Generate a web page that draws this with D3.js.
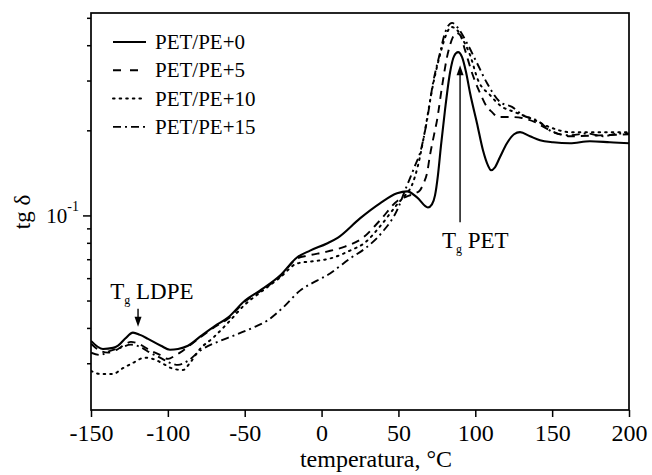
<!DOCTYPE html>
<html><head><meta charset="utf-8">
<script src="https://cdn.jsdelivr.net/npm/d3@7"></script>
<style>
body{margin:0;background:#fff}
svg{display:block}
text{font-family:"Liberation Serif","Times New Roman",serif;fill:#000}
</style>
</head><body>
<svg id="c" width="652" height="475"></svg>
<script>
// ---- data (temperature °C, tg δ) ----
const seriesNames = ["PET/PE+0", "PET/PE+5", "PET/PE+10", "PET/PE+15"];

const tempPE0 = [-150,-142.2,-135.7,-132.4,-127.9,-122.7,-118.1,-112.9,-104.5,-98.6,-93.4,-86.9,-78.4,-69.3,-60.9,-49.8,-40.1,-27,-16,-7.5,3.5,10.7,25,38,49.1,55.6,62.1,69.2,71.8,73.8,75.7,77.7,80.3,83.6,86.2,88.8,91.4,94,96.6,101.1,105,108.3,110.2,112.8,116.1,120.6,125.2,129.1,135.6,142.1,150.6,161.6,174.6,187.6,200];
const tanPE0  = [0.0360,0.0337,0.0340,0.0346,0.0366,0.0385,0.0378,0.0366,0.0346,0.0335,0.0337,0.0346,0.0375,0.0407,0.0435,0.0500,0.0542,0.0613,0.0710,0.0751,0.0796,0.0835,0.0976,0.1103,0.1197,0.1216,0.1158,0.1067,0.1094,0.1177,0.1386,0.177,0.236,0.321,0.366,0.378,0.363,0.321,0.271,0.212,0.170,0.150,0.1445,0.148,0.161,0.180,0.1937,0.197,0.1906,0.1845,0.1815,0.180,0.183,0.1815,0.180];

const tempPE5 = [-150,-144.1,-138.9,-132.4,-127.2,-124,-119.4,-111,-105.1,-99.9,-95.4,-92.1,-86.9,-78.4,-69.3,-60.9,-49.8,-40.1,-27,-16,-8.8,3.5,15.2,26.3,38,49.7,55.6,60.8,64,66.6,68.6,70.5,73.1,75.1,78.3,81.6,83.6,85.5,87.5,90.1,93.3,97.9,103.1,107.6,110.9,114.8,122.6,130.4,138.9,148.6,161.6,181.1,200];
const tanPE5  = [0.0352,0.0332,0.0327,0.0337,0.0352,0.0357,0.0352,0.0332,0.0321,0.0311,0.0319,0.0327,0.0343,0.0372,0.0404,0.0431,0.0496,0.0538,0.0608,0.0704,0.0721,0.0745,0.0776,0.0829,0.0960,0.1130,0.1168,0.1197,0.1227,0.1309,0.141,0.163,0.192,0.217,0.284,0.363,0.401,0.428,0.442,0.4347,0.385,0.319,0.271,0.242,0.2319,0.223,0.223,0.221,0.2137,0.200,0.1906,0.192,0.1937];

const tempPE10 = [-150,-144.1,-135.7,-129.8,-122.7,-114.9,-108.4,-103.2,-96.7,-90.1,-85.6,-79.1,-70.6,-60.9,-49.8,-40.1,-27,-16,-2.3,5.5,18.5,28.3,38,49.7,54.3,58.8,62.7,67.3,71.8,77,81,84.2,88.1,92,96.6,101.8,109.6,116.1,125.8,135.6,148.6,161.6,181.1,200];
const tanPE10  = [0.0282,0.0275,0.0275,0.0287,0.0301,0.0314,0.0309,0.0299,0.0287,0.0284,0.0301,0.0337,0.0369,0.0417,0.0484,0.0533,0.0603,0.0676,0.0692,0.0704,0.0751,0.0802,0.0914,0.1103,0.1177,0.128,0.150,0.200,0.277,0.369,0.4347,0.4641,0.453,0.418,0.369,0.301,0.2665,0.245,0.2319,0.221,0.205,0.197,0.197,0.197];

const tempPE15 = [-150,-144.1,-137.6,-131.1,-124,-118.1,-111.6,-105.1,-98.6,-93.4,-86.9,-79.1,-66.1,-57.6,-44.6,-35.5,-25.1,-14,-3,5.5,10.7,18.5,28.3,39.3,49.7,54.3,57.5,60.8,64,68.6,72.5,77,80.3,84.9,88.8,94.6,101.1,107.6,116.1,123.9,131,140.2,150.6,161.6,172.7,183.1,194.2,200];
const tanPE15  = [0.0327,0.0321,0.0332,0.0340,0.0349,0.0343,0.0327,0.0314,0.0301,0.0296,0.0306,0.0332,0.0360,0.0375,0.0401,0.0424,0.0472,0.0542,0.0588,0.0623,0.0654,0.0704,0.0764,0.0870,0.1059,0.1227,0.1353,0.150,0.166,0.217,0.294,0.375,0.442,0.480,0.460,0.407,0.346,0.294,0.252,0.242,0.226,0.217,0.197,0.192,0.195,0.1906,0.195,0.195];

const xTicks = [-150,-100,-50,0,50,100,150,200];
const yMinorTicks = [0.03,0.04,0.05,0.06,0.07,0.08,0.09,0.2,0.3,0.4,0.5];
const yMajorTicks = [0.1];

// annotations (data coordinates)
const annLDPE = {t:-119.4, from:0.0468, to:0.0404, labelT:-137.5, labelV:0.0508};
const annPET  = {t:90.1,  from:0.0945, to:0.340,  labelT:78.3, labelV:0.0764};

// ---- drawing ----
const svg = d3.select("#c");
const L=91, R=629, T=13, B=410;
const x = d3.scaleLinear().domain([-150,200]).range([L,R]);
const y = d3.scaleLog().domain([0.0205,0.52]).range([B,T]);

// x axis
const gx = svg.append("g").attr("transform",`translate(0,${B})`)
  .call(d3.axisBottom(x).tickValues(xTicks).tickSize(7).tickSizeOuter(0).tickPadding(7).tickFormat(d=>String(d)));
gx.select(".domain").remove();
gx.selectAll("line").attr("stroke","#000").attr("stroke-width",1.5);
gx.selectAll("text").attr("font-size",24).attr("font-family",'"Liberation Serif",serif');

// y axis minor
const gy = svg.append("g").attr("transform",`translate(${L},0)`)
  .call(d3.axisLeft(y).tickValues(yMinorTicks).tickSize(4).tickSizeOuter(0).tickFormat(""));
gy.select(".domain").remove();
gy.selectAll("line").attr("stroke","#000").attr("stroke-width",1.5);
const gy2 = svg.append("g").attr("transform",`translate(${L},0)`)
  .call(d3.axisLeft(y).tickValues(yMajorTicks).tickSize(8).tickSizeOuter(0).tickFormat(""));
gy2.select(".domain").remove();
gy2.selectAll("line").attr("stroke","#000").attr("stroke-width",1.5);
yMajorTicks.forEach(v=>{
  const t = svg.append("text").attr("x",L-12).attr("y",y(v)+8).attr("text-anchor","end").attr("font-size",21);
  t.append("tspan").text("10");
  t.append("tspan").attr("font-size",14).attr("dy",-12).text("-1");
});

// frame
svg.append("rect").attr("x",L).attr("y",T).attr("width",R-L).attr("height",B-T)
  .attr("fill","none").attr("stroke","#000").attr("stroke-width",1.7);

// axis titles
svg.append("text").attr("x",376).attr("y",467).attr("text-anchor","middle").attr("font-size",24)
  .text("temperatura, °C");
svg.append("text").attr("transform","translate(30,212) rotate(-90)").attr("text-anchor","middle").attr("font-size",23)
  .text("tg δ");

// series
const dashes = [null, "8,6", "1.6,5", "8,4,2,4"];
const series = [
  {name:seriesNames[0], t:tempPE0, v:tanPE0},
  {name:seriesNames[1], t:tempPE5, v:tanPE5},
  {name:seriesNames[2], t:tempPE10, v:tanPE10},
  {name:seriesNames[3], t:tempPE15, v:tanPE15}
];
const line = d3.line().x(d=>x(d[0])).y(d=>y(d[1])).curve(d3.curveMonotoneX);
svg.append("clipPath").attr("id","pc").append("rect").attr("x",L).attr("y",T).attr("width",R-L).attr("height",B-T);
series.forEach((s,i)=>{
  const pts = s.t.map((t,k)=>[t,s.v[k]]);
  svg.append("path").attr("d",line(pts)).attr("fill","none").attr("stroke","#000")
    .attr("stroke-width", i===0?2.1:(i===2?2:1.9))
    .attr("stroke-linecap", i===2?"round":"butt")
    .attr("stroke-dasharray", dashes[i])
    .attr("clip-path","url(#pc)");
});

// legend
series.forEach((s,i)=>{
  const yy = 42 + i*28.3;
  svg.append("line").attr("x1",113).attr("x2",146).attr("y1",yy).attr("y2",yy)
    .attr("stroke","#000").attr("stroke-width",i===2?2:1.9)
    .attr("stroke-linecap", i===2?"round":"butt")
    .attr("stroke-dasharray", i===1?"8,9":dashes[i]);
  svg.append("text").attr("x",155).attr("y",yy+7).attr("font-size",21).text(s.name);
});

// annotations
function arrow(a){
  const ax = x(a.t), y0 = y(a.from), y1 = y(a.to);
  const dir = y1 > y0 ? 1 : -1;
  svg.append("line").attr("x1",ax).attr("x2",ax).attr("y1",y0).attr("y2",y1 - dir*8)
    .attr("stroke","#000").attr("stroke-width",1.4);
  svg.append("path").attr("d",`M${ax-3.5},${y1-dir*10}L${ax+3.5},${y1-dir*10}L${ax},${y1}Z`).attr("fill","#000");
}
arrow(annLDPE); arrow(annPET);
function tgLabel(a, rest){
  const t = svg.append("text").attr("x",x(a.labelT)).attr("y",y(a.labelV)).attr("font-size",23);
  t.append("tspan").text("T");
  t.append("tspan").attr("font-size",12).attr("dy",5).text("g");
  t.append("tspan").attr("dy",-5).text(" "+rest);
}
tgLabel(annLDPE,"LDPE");
tgLabel(annPET,"PET");
</script>
</body></html>
